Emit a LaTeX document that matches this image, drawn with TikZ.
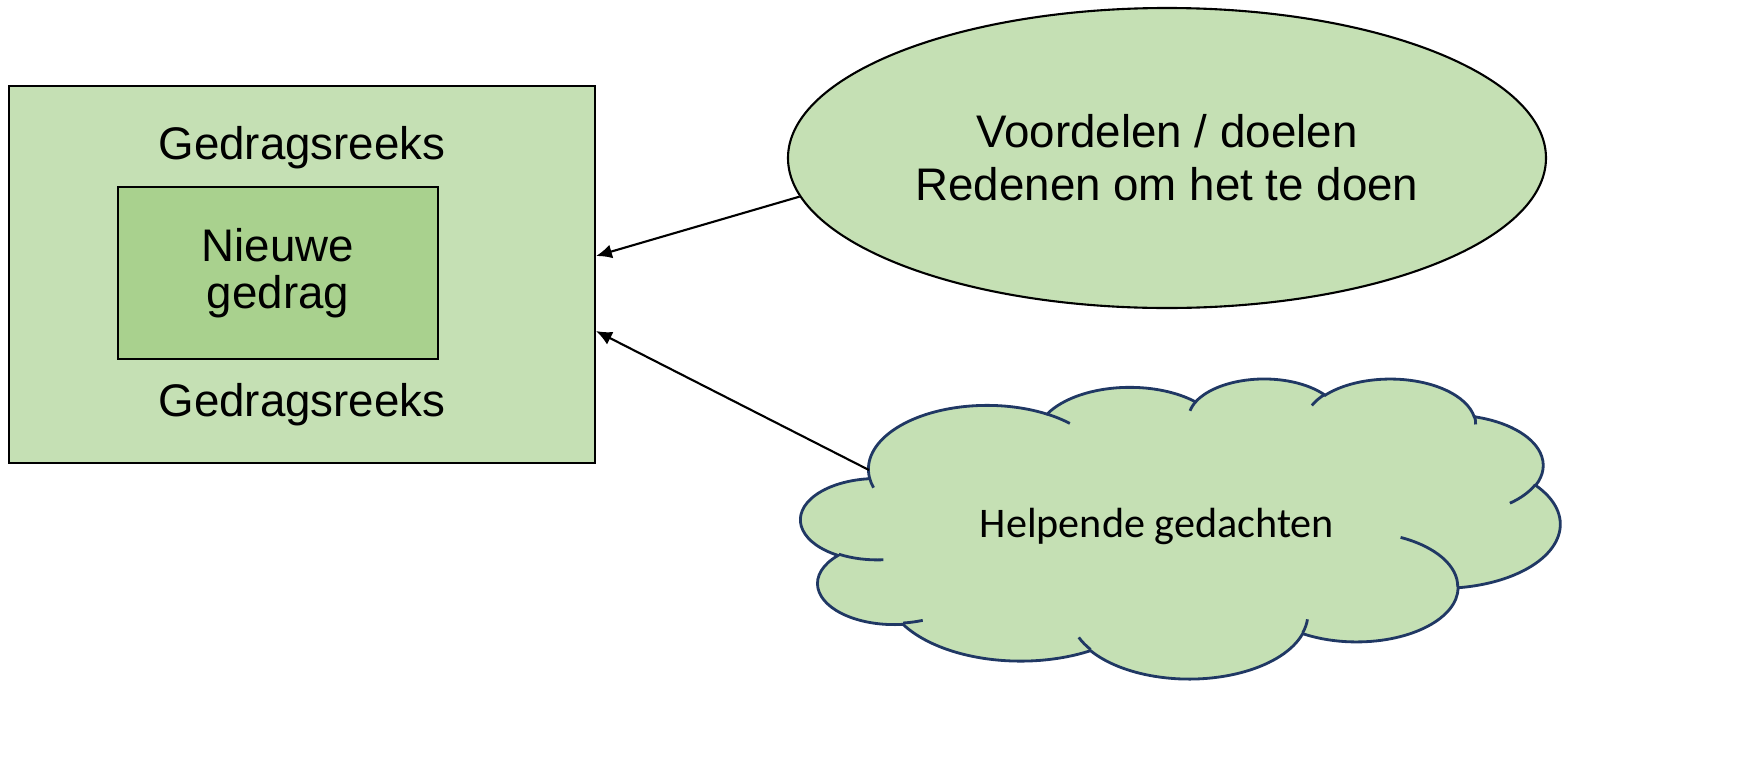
\documentclass[tikz,border=0pt]{standalone}
\usepackage{fontspec}
\setmainfont{Liberation Sans}
\newfontfamily\calibri{Carlito}
\usetikzlibrary{shapes.geometric,arrows.meta}
\definecolor{lightgreen}{HTML}{C5E0B4}
\definecolor{midgreen}{HTML}{A9D18E}
\definecolor{navy}{HTML}{203864}
\tikzset{puff/.style n args={4}{x radius=#1,y radius=#2,
  start angle={atan2(#1*sin(#3),#2*cos(#3))},
  delta angle={mod(atan2(#1*sin(#3+#4),#2*cos(#3+#4))-atan2(#1*sin(#3),#2*cos(#3))+720,360)}}}
\begin{document}
\begin{tikzpicture}[>={Latex[length=4.5pt,width=4pt]},
  every node/.style={font=\fontsize{13}{15}\selectfont},
  outerbox/.style={draw,line width=.6pt,fill=lightgreen,minimum width=5.86cm,minimum height=3.77cm,inner sep=0},
  innerbox/.style={draw,line width=.6pt,fill=midgreen,minimum width=3.2cm,minimum height=1.72cm,inner sep=0,align=center,font=\fontsize{13}{13.5}\selectfont},
  goal/.style={draw,ellipse,line width=.6pt,fill=lightgreen,minimum width=7.58cm,minimum height=3cm,inner sep=0,align=center},
  wolkvorm/.style={draw=navy,line width=.8pt,fill=lightgreen},
  wolklijn/.style={draw=navy,line width=.8pt}]
\useasboundingbox (0,0) rectangle (17.54,7.58);
\node[outerbox] (reeks) at (3.02,4.835) {};
\node[innerbox] (nieuw) at (2.78,4.85) {Nieuwe\\ gedrag};
\node (top) at (3.02,6.10) {Gedragsreeks};
\node (bottom) at (3.02,3.53) {Gedragsreeks};
\node[goal] (doel) at (11.67,6.00) {Voordelen / doelen\\Redenen om het te doen};
\begin{scope}[shift={(8.01,3.80)},x=0.17569cm,y=-0.069444cm]
\filldraw[wolkvorm] (3.9,14.37)
  arc[puff={6.753}{9.19}{-190.4875}{123.7805}]
  arc[puff={5.333}{7.267}{-144.1024}{89.9452}]
  arc[puff={4.365}{5.945}{-145.8079}{99.7230}]
  arc[puff={4.857}{6.595}{-130.9861}{117.2417}]
  arc[puff={5.333}{7.273}{-78.7089}{109.0269}]
  arc[puff={6.775}{9.22}{-46.2673}{130.2690}]
  arc[puff={5.785}{7.867}{0.6250}{114.0333}]
  arc[puff={6.752}{9.215}{22.4516}{115.1726}]
  arc[puff={7.72}{10.543}{66.2426}{75.7110}]
  arc[puff={4.36}{5.918}{-274.9421}{146.7356}]
  arc[puff={4.345}{5.945}{-246.8285}{152.5189}] -- cycle;
\draw[wolklijn] (4.693,26.177) arc[puff={4.345}{5.945}{86.742}{26.4295}]
  (6.928,34.899) arc[puff={4.36}{5.918}{73.6105}{11.4475}]
  (16.478,39.09) arc[puff={6.752}{9.215}{137.6242}{14.0811}]
  (28.827,34.751) arc[puff={6.752}{9.215}{6.4533}{15.9984}]
  (34.129,22.954) arc[puff={5.785}{7.867}{-70.2924}{70.9174}]
  (41.798,15.354) arc[puff={5.333}{7.273}{30.318}{27.7515}]
  (38.324,5.426) arc[puff={4.857}{6.595}{-13.7443}{14.8589}]
  (29.078,3.952) arc[puff={4.857}{6.595}{-149.1815}{18.1954}]
  (22.141,4.72) arc[puff={4.365}{5.945}{-163.4943}{17.6864}]
  (14,5.192) arc[puff={6.753}{9.19}{-66.707}{12.3194}]
  (4.127,15.789) arc[puff={6.753}{9.19}{157.6544}{11.8582}];
\coordinate (wolk) at (3.87,13.25);
\end{scope}
\node[font=\calibri\fontsize{12}{14}\selectfont] (help) at (11.57,2.32) {Helpende gedachten};
\draw[->,line width=.6pt] (doel.186) -- ([yshift=.185cm]reeks.east);
\draw[->,line width=.6pt] (wolk) -- ([yshift=-.565cm]reeks.east);
\end{tikzpicture}
\end{document}
